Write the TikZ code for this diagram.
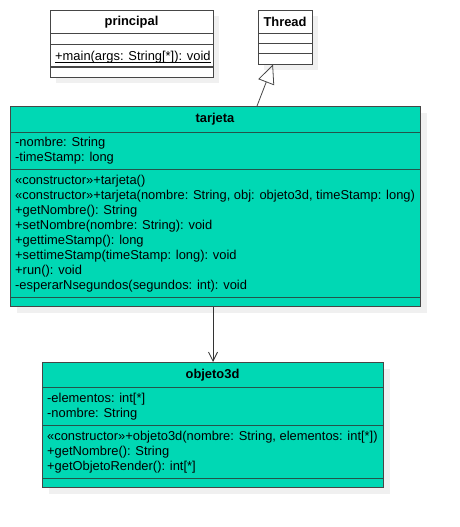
\documentclass[tikz,border=0pt]{standalone}
\usepackage{fontspec}
\setmainfont{Liberation Sans}
\usetikzlibrary{arrows.meta}
\definecolor{umlfill}{RGB}{0,216,180}
\definecolor{umlline}{RGB}{70,70,70}
\definecolor{sepline}{RGB}{35,85,75}
\definecolor{shadowc}{RGB}{240,240,240}
\begin{document}
\begin{tikzpicture}[x=1pt,y=-1pt,
  classbox/.style={draw=umlline, line width=1pt, inner sep=0pt, anchor=north west},
  shadowbox/.style={fill=shadowc, draw=none},
  title/.style={font=\fontsize{12.9}{15}\selectfont\bfseries, inner sep=0pt},
  member/.style={font=\fontsize{12.9}{15}\selectfont, inner sep=0pt, anchor=base west},
  sep/.style={draw=umlline, line width=1pt},
  tsep/.style={draw=sepline, line width=1pt}
]
\useasboundingbox (0,0) rectangle (460,527);

% principal
\fill[shadowbox] (56,16) rectangle (219,83);
\node[classbox, fill=white, minimum width=163pt, minimum height=67pt] (principal) at (50,10) {};
\node[title] (ptitle) at (131.5,22) {principal};
\draw[sep] (50,34) -- (213,34);
\draw[sep] (50,45) -- (213,45);
\draw[sep] (50,67) -- (213,67);
\node[member] (pm1) at (55,60) {+main(args: String[*]): void};
\draw[black, line width=0.7pt] ([yshift=-2pt]pm1.base west) -- ([yshift=-2pt]pm1.base east);

% Thread
\fill[shadowbox] (264,16) rectangle (318,70);
\node[classbox, fill=white, minimum width=54pt, minimum height=54pt] (thread) at (258,10) {};
\node[title] (ttitle) at (285,22) {Thread};
\draw[sep] (258,34) -- (312,34);
\draw[sep] (258,44) -- (312,44);
\draw[sep] (258,54) -- (312,54);

% tarjeta
\fill[shadowbox] (17,113) rectangle (427,313);
\node[classbox, fill=umlfill, minimum width=410pt, minimum height=200pt] (tarjeta) at (10,106) {};
\node[title] (tjtitle) at (215,119) {tarjeta};
\draw[tsep] (10,132) -- (420,132);
\draw[tsep] (10,169) -- (420,169);
\draw[tsep] (10,297) -- (420,297);
\node[member] (ta1) at (15,146) {-nombre: String};
\node[member] (ta2) at (15,161) {-timeStamp: long};
\node[member] (tm1) at (15,184) {«constructor»+tarjeta()};
\node[member] (tm2) at (15,199) {«constructor»+tarjeta(nombre: String, obj: objeto3d, timeStamp: long)};
\node[member] (tm3) at (15,214) {+getNombre(): String};
\node[member] (tm4) at (15,229) {+setNombre(nombre: String): void};
\node[member] (tm5) at (15,244) {+gettimeStamp(): long};
\node[member] (tm6) at (15,259) {+settimeStamp(timeStamp: long): void};
\node[member] (tm7) at (15,274) {+run(): void};
\node[member] (tm8) at (15,289) {-esperarNsegundos(segundos: int): void};

% objeto3d
\fill[shadowbox] (49,369) rectangle (390,494);
\node[classbox, fill=umlfill, minimum width=341pt, minimum height=125pt] (objeto) at (42,362) {};
\node[title] (otitle) at (212.5,375) {objeto3d};
\draw[tsep] (42,387) -- (383,387);
\draw[tsep] (42,425) -- (383,425);
\draw[tsep] (42,478) -- (383,478);
\node[member] (oa1) at (47,402) {-elementos: int[*]};
\node[member] (oa2) at (47,417) {-nombre: String};
\node[member] (om1) at (47,440) {«constructor»+objeto3d(nombre: String, elementos: int[*])};
\node[member] (om2) at (47,455) {+getNombre(): String};
\node[member] (om3) at (47,470) {+getObjetoRender(): int[*]};

% connectors
\coordinate (inhfrom) at (257,106);
\coordinate (inhto) at (273,64.5);
\draw[umlline, line width=0.8pt, -{Triangle[open, length=19pt, width=17pt, line width=0.8pt]}] (inhfrom) -- (inhto);
\draw[black!80, line width=0.8pt, -{Straight Barb[length=9pt, width=9pt, line width=0.8pt]}] (tarjeta.south -| 213,0) -- (objeto.north -| 213,0);
\end{tikzpicture}
\end{document}
